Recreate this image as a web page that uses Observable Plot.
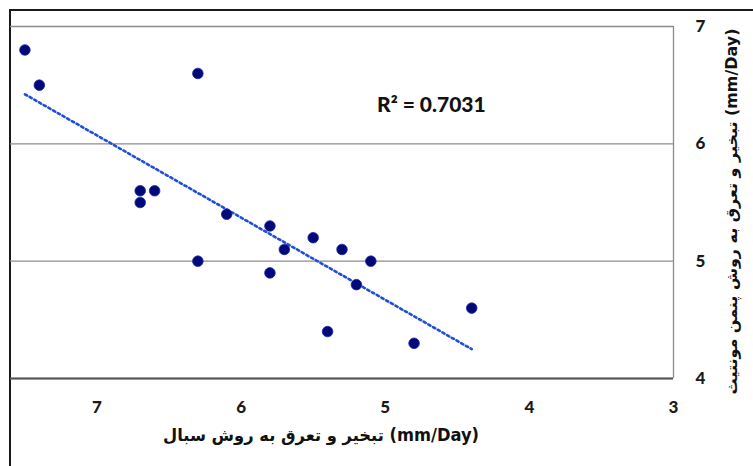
<!DOCTYPE html>
<html><head><meta charset="utf-8">
<script src="https://cdn.jsdelivr.net/npm/d3@7"></script>
<script src="https://cdn.jsdelivr.net/npm/@observablehq/plot@0.6"></script>
<style>
html,body{margin:0;padding:0;background:#fff;}
#wrap{position:relative;width:753px;height:466px;overflow:hidden;}
#border{position:absolute;left:9px;top:9px;width:800px;height:500px;border-left:2px solid #1a1a1a;border-top:2px solid #1a1a1a;pointer-events:none;}
</style>
</head><body>
<div id="wrap"><div id="border"></div></div>
<script>
const sebal = [7.5, 7.4, 6.3, 6.7, 6.7, 6.6, 6.1, 5.8, 5.7, 5.5, 5.3, 5.1, 6.3, 5.8, 5.2, 5.4, 4.8, 4.4];
const penman = [6.8, 6.5, 6.6, 5.6, 5.5, 5.6, 5.4, 5.3, 5.1, 5.2, 5.1, 5.0, 5.0, 4.9, 4.8, 4.4, 4.3, 4.6];
const xTicks = [3, 4, 5, 6, 7];
const yTicks = [4, 5, 6, 7];
const r2Label = "R² = 0.7031";
const r2Pos = {x: 4.68, y: 6.33};
const xLabel = "تبخیر و تعرق به روش سبال (mm/Day)";
const yLabel = "تبخیر و تعرق به روش پنمن مونتیث (mm/Day)";

const data = sebal.map((x, i) => ({x, y: penman[i]}));

const chart = Plot.plot({
  width: 753,
  height: 466,
  marginLeft: 10,
  marginRight: 80,
  marginTop: 26,
  marginBottom: 88,
  style: {fontFamily: "'DejaVu Sans', sans-serif", background: "transparent", overflow: "visible"},
  x: {domain: [7.6, 3], ticks: xTicks, tickSize: 0, tickPadding: 22, label: null},
  y: {domain: [4, 7], ticks: yTicks, tickSize: 0, label: null, axis: null},
  marks: [
    Plot.gridY(yTicks, {stroke: "#8c8c8c", strokeOpacity: 1, strokeWidth: 1.3}),
    Plot.ruleX([3], {stroke: "#8c8c8c", strokeWidth: 1.3}),
    Plot.ruleY([4], {stroke: "#555", strokeWidth: 2}),
    Plot.axisX({ticks: xTicks, tickFormat: "d", tickSize: 0, tickPadding: 22, fontSize: 17, fontWeight: "900", fill: "#1a1a1a", label: null, fontFamily: "Lato, sans-serif"}),
    Plot.axisY({anchor: "right", ticks: yTicks, tickFormat: "d", tickSize: 0, tickPadding: 22, fontSize: 17, fontWeight: "900", fill: "#1a1a1a", label: null, fontFamily: "Lato, sans-serif"}),
    Plot.linearRegressionY(data, {x: "x", y: "y", ci: 0, stroke: "#1f4fd6", strokeWidth: 2.6, strokeDasharray: "2.4,3", strokeLinecap: "round"}),
    Plot.dot(data, {x: "x", y: "y", r: 5.3, fill: "#00087a", stroke: "#1a2aa0", strokeWidth: 0.8}),
    Plot.text([r2Pos], {x: "x", y: "y", text: () => r2Label, fontSize: 21, fontWeight: "900", fill: "#111", fontFamily: "Lato, sans-serif"}),
    Plot.text([xLabel], {frameAnchor: "bottom", dx: -21, dy: 62, text: d => d, fontSize: 17, fontWeight: "bold", fill: "#111", className: "xlab"}),
    Plot.text([yLabel], {frameAnchor: "right", textAnchor: "middle", dx: 59, dy: 9, rotate: -90, text: d => d, fontSize: 15, fontWeight: "bold", fill: "#111", className: "ylab"})
  ]
});
document.getElementById("wrap").appendChild(chart);
chart.style.position = "absolute";
chart.style.left = "0";
chart.style.top = "0";
d3.select(chart).selectAll(".xlab text").attr("textLength", 316).attr("lengthAdjust", "spacingAndGlyphs");
d3.select(chart).selectAll(".ylab text").attr("textLength", 366).attr("lengthAdjust", "spacingAndGlyphs");
</script>
</body></html>
